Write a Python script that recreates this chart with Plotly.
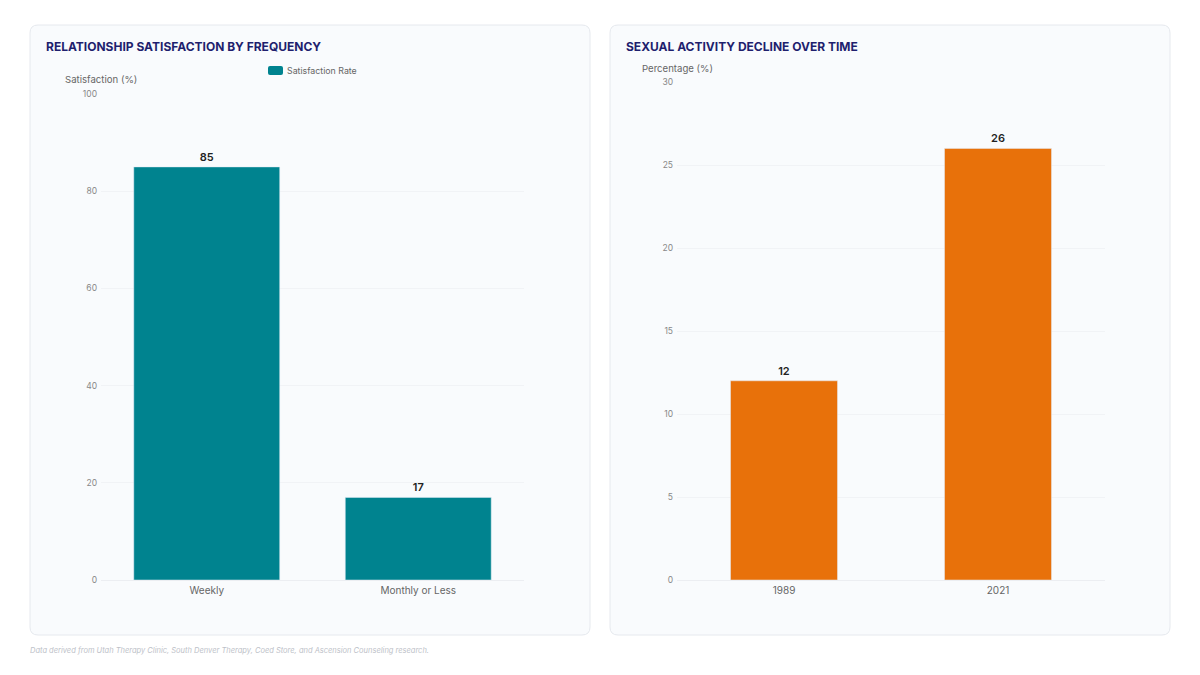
import plotly.graph_objects as go

# Data
freq_categories = ["Weekly", "Monthly or Less"]
satisfaction_values = [85, 17]
year_categories = ["1989", "2021"]
decline_values = [12, 26]

W, H = 1200, 675
TEAL = "#00838F"
ORANGE = "#E8710A"
NAVY = "#1F1F6E"

def px_x(v):
    return v / W

def px_y(v):
    return 1 - v / H

def rounded_rect(x0, y0, x1, y1, r):
    X0, X1 = px_x(x0), px_x(x1)
    Y0, Y1 = px_y(y0), px_y(y1)
    rx, ry = r / W, r / H
    return (f"M {X0+rx},{Y0} L {X1-rx},{Y0} Q {X1},{Y0} {X1},{Y0-ry} "
            f"L {X1},{Y1+ry} Q {X1},{Y1} {X1-rx},{Y1} L {X0+rx},{Y1} "
            f"Q {X0},{Y1} {X0},{Y1+ry} L {X0},{Y0-ry} Q {X0},{Y0} {X0+rx},{Y0} Z")

fig = go.Figure()

fig.add_trace(go.Bar(
    x=freq_categories, y=satisfaction_values, name="Satisfaction Rate",
    marker=dict(color=TEAL), width=[0.69] * len(freq_categories),
    text=[str(v) for v in satisfaction_values], textposition="outside",
    textfont=dict(size=11, color="#222222", family="Inter", weight=600),
    cliponaxis=False, xaxis="x", yaxis="y", showlegend=False,
))
fig.add_trace(go.Bar(
    x=year_categories, y=decline_values, name="Percentage",
    marker=dict(color=ORANGE), width=[0.5] * len(year_categories),
    text=[str(v) for v in decline_values], textposition="outside",
    textfont=dict(size=11, color="#222222", family="Inter", weight=600),
    cliponaxis=False, xaxis="x2", yaxis="y2", showlegend=False,
))

axis_common_x = dict(showgrid=False, zeroline=False, showline=False, ticks="",
                     tickfont=dict(size=10, color="#666666", family="Inter"),
                     ticklabelstandoff=3, fixedrange=True, automargin=False)
axis_common_y = dict(showgrid=True, gridcolor="#F1F3F6", gridwidth=1, zeroline=True,
                     zerolinecolor="#ECEEF2", zerolinewidth=1, showline=False, ticks="",
                     tickfont=dict(size=8.5, color="#888888", family="Inter"),
                     ticklabelstandoff=3, fixedrange=True, automargin=False)

fig.update_layout(
    width=W, height=H,
    margin=dict(l=0, r=0, t=0, b=0, pad=0, autoexpand=False),
    paper_bgcolor="#FFFFFF", plot_bgcolor="rgba(0,0,0,0)",
    font=dict(family="Inter", color="#555555"),
    bargap=0.3,
    xaxis=dict(domain=[px_x(101), px_x(524)], anchor="y", **axis_common_x),
    yaxis=dict(domain=[px_y(580), px_y(94)], range=[0, 100], dtick=20, anchor="x",
               **axis_common_y),
    xaxis2=dict(domain=[px_x(677), px_x(1105)], anchor="y2", **axis_common_x),
    yaxis2=dict(domain=[px_y(580), px_y(82)], range=[0, 30], dtick=5, anchor="x2",
                **axis_common_y),
    showlegend=False,
)

shapes = [
    dict(type="path", xref="paper", yref="paper", path=rounded_rect(30, 25, 590, 635, 8),
         fillcolor="#F9FBFD", line=dict(color="#E6E9EE", width=1), layer="below"),
    dict(type="path", xref="paper", yref="paper", path=rounded_rect(610, 25, 1170, 635, 8),
         fillcolor="#F9FBFD", line=dict(color="#E6E9EE", width=1), layer="below"),
    dict(type="path", xref="paper", yref="paper", path=rounded_rect(268, 66, 283, 75, 2),
         fillcolor=TEAL, line=dict(width=0), layer="above"),
]
fig.update_layout(shapes=shapes)

annotations = [
    dict(text="<b>RELATIONSHIP SATISFACTION BY FREQUENCY</b>", x=px_x(44), y=px_y(47),
         xref="paper", yref="paper", xanchor="left", yanchor="middle", showarrow=False,
         font=dict(size=12, color=NAVY, family="Inter")),
    dict(text="<b>SEXUAL ACTIVITY DECLINE OVER TIME</b>", x=px_x(624), y=px_y(47),
         xref="paper", yref="paper", xanchor="left", yanchor="middle", showarrow=False,
         font=dict(size=12, color=NAVY, family="Inter")),
    dict(text="Satisfaction (%)", x=px_x(63), y=px_y(80),
         xref="paper", yref="paper", xanchor="left", yanchor="middle", showarrow=False,
         font=dict(size=9.6, color="#666666", family="Inter")),
    dict(text="Percentage (%)", x=px_x(640), y=px_y(68),
         xref="paper", yref="paper", xanchor="left", yanchor="middle", showarrow=False,
         font=dict(size=9.6, color="#666666", family="Inter")),
    dict(text="Satisfaction Rate", x=px_x(285), y=px_y(71),
         xref="paper", yref="paper", xanchor="left", yanchor="middle", showarrow=False,
         font=dict(size=8.8, color="#666666", family="Inter")),
    dict(text="<i>Data derived from Utah Therapy Clinic, South Denver Therapy, Coed Store, and Ascension Counseling research.</i>",
         x=px_x(28), y=px_y(650),
         xref="paper", yref="paper", xanchor="left", yanchor="middle", showarrow=False,
         font=dict(size=7.5, color="#BDC1C8", family="Inter")),
]
fig.update_layout(annotations=annotations)

fig.write_html("out.html")
